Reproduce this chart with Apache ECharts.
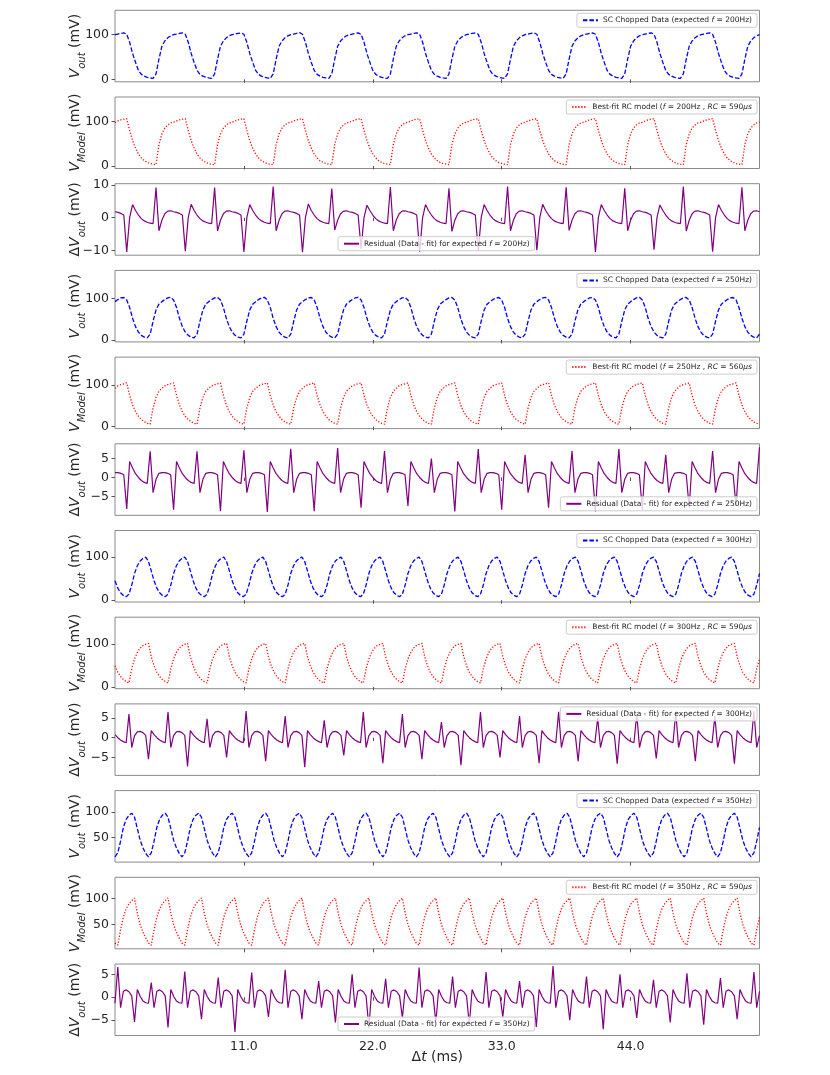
<!DOCTYPE html>
<html><head><meta charset="utf-8">
<script src="https://cdn.jsdelivr.net/npm/echarts@6/dist/echarts.min.js"></script>
<style>html,body{margin:0;padding:0;background:#fff}#c{width:830px;height:1075px}</style>
</head><body><div id="c"></div>
<script>
// ---------- axis / tick labels ----------
const xTicks = [11, 22, 33, 44];
const xRange = [0, 55];
// sample spacing (ms) of each recording
const dt200 = 0.25, dt250 = 0.25, dt300 = 1 / 4.2, dt350 = 1 / 4.2;

// ---------- 200 Hz (one row = one 5 ms period) ----------
const data200 = [
[100,101.5,103,104,101,83,58,38,20,11,7,4.5,3,2,12,45,74,86,93,97.5],
[100,101.5,103,104.3,101,83,58,38,20,11,7,4.5,3,2,12,45,74,86,93,97.5],
[100,101.5,103,104,101,83,58,38,20,11,7,4.5,3,2,12,45,74,86,93,97.5],
[100,101.5,103,104.5,101,83,58,38,20,11,7,4.5,3,2,12,45,74,86,93,97.5],
[100,101.5,103,104,101,83,58,38,20,11,7,4.5,3,2,12,45,74,86,93,97.5],
[100,101.5,103,104.2,101,83,58,38,20,11,7,4.5,3,2,12,45,74,86,93,97.5],
[100,101.5,103,104,101,83,58,38,20,11,7,4.5,3,2,12,45,74,86,93,97.5],
[100,101.5,103,104.4,101,83,58,38,20,11,7,4.5,3,2,12,45,74,86,93,97.5],
[100,101.5,103,104,101,83,58,38,20,11,7,4.5,3,2,12,45,74,86,93,97.5],
[100,101.5,103,104.2,101,83,58,38,20,11,7,4.5,3,2,12,45,74,86,93,97.5],
[100,101.5,103,104,101,83,58,38,20,11,7,4.5,3,2,12,45,74,86,93,97.5],
[100]];
const model200 = [
[97,101,103.5,105,106,80,57,40,27,18,12,8,5.5,4,3,48,72,85,92,96.5],
[98,101,103.5,105,106,80,57,40,27,18,12,8,5.5,4,3,48,72,85,92,96.5],
[98,101,103.5,105,106,80,57,40,27,18,12,8,5.5,4,3,48,72,85,92,96.5],
[98,101,103.5,105,106,80,57,40,27,18,12,8,5.5,4,3,48,72,85,92,96.5],
[98,101,103.5,105,106,80,57,40,27,18,12,8,5.5,4,3,48,72,85,92,96.5],
[98,101,103.5,105,106,80,57,40,27,18,12,8,5.5,4,3,48,72,85,92,96.5],
[98,101,103.5,105,106,80,57,40,27,18,12,8,5.5,4,3,48,72,85,92,96.5],
[98,101,103.5,105,106,80,57,40,27,18,12,8,5.5,4,3,48,72,85,92,96.5],
[98,101,103.5,105,106,80,57,40,27,18,12,8,5.5,4,3,48,72,85,92,96.5],
[98,101,103.5,105,106,80,57,40,27,18,12,8,5.5,4,3,48,72,85,92,96.5],
[98,101,103.5,105,106,80,57,40,27,18,12,8,5.5,4,3,48,72,85,92,96.5],
[98]];
const resid200 = [
[1.8,1.6,1.3,0.8,-10.5,0,4,2.2,0.8,-0.3,-1.0,-1.4,-1.7,-1.8,9.2,-4,-0.8,1.2,2.0,2.1],
[1.8,1.6,1.3,0.8,-10.3,0,4.1,2.2,0.8,-0.3,-1.0,-1.4,-1.7,-1.8,9.2,-4.1,-0.8,1.2,2.0,2.1],
[1.8,1.6,1.3,0.8,-10.5,0,4,2.2,0.8,-0.3,-1.0,-1.4,-1.7,-1.8,9.5,-4,-0.8,1.2,2.0,2.1],
[1.8,1.6,1.3,0.8,-10.6,0,4.2,2.2,0.8,-0.3,-1.0,-1.4,-1.7,-1.8,8.9,-3.8,-0.8,1.2,2.0,2.1],
[1.8,1.6,1.3,0.8,-9.6,0,3.8,2.2,0.8,-0.3,-1.0,-1.4,-1.7,-1.8,9.4,-4,-0.8,1.2,2.0,2.1],
[1.8,1.6,1.3,0.8,-10.4,0,4,2.2,0.8,-0.3,-1.0,-1.4,-1.7,-1.8,9.0,-4.2,-0.8,1.2,2.0,2.1],
[1.8,1.6,1.3,0.8,-10.2,0,4,2.2,0.8,-0.3,-1.0,-1.4,-1.7,-1.8,9.5,-4,-0.8,1.2,2.0,2.1],
[1.8,1.6,1.3,0.8,-10.0,0,4.1,2.2,0.8,-0.3,-1.0,-1.4,-1.7,-1.8,9.3,-3.9,-0.8,1.2,2.0,2.1],
[1.8,1.6,1.3,0.8,-10.5,0,4,2.2,0.8,-0.3,-1.0,-1.4,-1.7,-1.8,9.0,-4,-0.8,1.2,2.0,2.1],
[1.8,1.6,1.3,0.8,-9.8,0,3.9,2.2,0.8,-0.3,-1.0,-1.4,-1.7,-1.8,9.5,-4.1,-0.8,1.2,2.0,2.1],
[1.8,1.6,1.3,0.8,-10.4,0,4,2.2,0.8,-0.3,-1.0,-1.4,-1.7,-1.8,9.3,-4,-0.8,1.2,2.0,2.1],
[1.8]];

// ---------- 250 Hz (one row = one 4 ms period) ----------
const data250 = [
[92,97,101,102,96,78,52,32,19,11,7,5,14,45,72,86],
[92,97,101,102.5,96,78,52,32,19,11,7,5,14,45,72,86],
[92,97,101,102,96,78,52,32,19,11,7,5,14,45,72,86],
[92,97,101,102.3,96,78,52,32,19,11,7,5,14,45,72,86],
[92,97,101,102,96,78,52,32,19,11,7,5,14,45,72,86],
[92,97,101,102.5,96,78,52,32,19,11,7,5,14,45,72,86],
[92,97,101,102,96,78,52,32,19,11,7,5,14,45,72,86],
[92,97,101,102.2,96,78,52,32,19,11,7,5,14,45,72,86],
[92,97,101,102,96,78,52,32,19,11,7,5,14,45,72,86],
[92,97,101,102.4,96,78,52,32,19,11,7,5,14,45,72,86],
[92,97,101,102,96,78,52,32,19,11,7,5,14,45,72,86],
[92,97,101,102.3,96,78,52,32,19,11,7,5,14,45,72,86],
[92,97,101,102,96,78,52,32,19,11,7,5,14,45,72,86],
[92,97,101,102,96,78,52,32,19,11,7,5,14]];
const model250 = [
[92,98,101,103,105,75,52,36,25,17,12,8,6,45,70,85],
[92,98,101,103,105,75,52,36,25,17,12,8,6,45,70,85],
[92,98,101,103,105,75,52,36,25,17,12,8,6,45,70,85],
[92,98,101,103,105,75,52,36,25,17,12,8,6,45,70,85],
[92,98,101,103,105,75,52,36,25,17,12,8,6,45,70,85],
[92,98,101,103,105,75,52,36,25,17,12,8,6,45,70,85],
[92,98,101,103,105,75,52,36,25,17,12,8,6,45,70,85],
[92,98,101,103,105,75,52,36,25,17,12,8,6,45,70,85],
[92,98,101,103,105,75,52,36,25,17,12,8,6,45,70,85],
[92,98,101,103,105,75,52,36,25,17,12,8,6,45,70,85],
[92,98,101,103,105,75,52,36,25,17,12,8,6,45,70,85],
[92,98,101,103,105,75,52,36,25,17,12,8,6,45,70,85],
[92,98,101,103,105,75,52,36,25,17,12,8,6,45,70,85],
[92,98,101,103,105,75,52,36,25,17,12,8,6]];
const resid250 = [
[1.3,1.3,1.1,0.7,-8.3,4.2,2.5,1.0,0,-0.8,-1.3,-1.6,6.9,-4,-0.5,1.1],
[1.3,1.3,1.1,0.7,-8.5,4.2,2.5,1.0,0,-0.8,-1.3,-1.6,6.9,-4,-0.5,1.1],
[1.3,1.3,1.1,0.7,-8.9,4.2,2.5,1.0,0,-0.8,-1.3,-1.6,7.2,-4,-0.5,1.1],
[1.3,1.3,1.1,0.7,-9.1,4.2,2.5,1.0,0,-0.8,-1.3,-1.6,7.6,-4,-0.5,1.1],
[1.3,1.3,1.1,0.7,-8.9,4.2,2.5,1.0,0,-0.8,-1.3,-1.6,7.8,-4,-0.5,1.1],
[1.3,1.3,1.1,0.7,-8.0,4.2,2.5,1.0,0,-0.8,-1.3,-1.6,7.0,-4,-0.5,1.1],
[1.3,1.3,1.1,0.7,-7.5,4.2,2.5,1.0,0,-0.8,-1.3,-1.6,5.0,-4,-0.5,1.1],
[1.3,1.3,1.1,0.7,-9.0,4.2,2.5,1.0,0,-0.8,-1.3,-1.6,7.5,-4,-0.5,1.1],
[1.3,1.3,1.1,0.7,-8.5,4.2,2.5,1.0,0,-0.8,-1.3,-1.6,6.0,-4,-0.5,1.1],
[1.3,1.3,1.1,0.7,-8.0,4.2,2.5,1.0,0,-0.8,-1.3,-1.6,7.0,-4,-0.5,1.1],
[1.3,1.3,1.1,0.7,-9.0,4.2,2.5,1.0,0,-0.8,-1.3,-1.6,7.5,-4,-0.5,1.1],
[1.3,1.3,1.1,0.7,-8.5,4.2,2.5,1.0,0,-0.8,-1.3,-1.6,6.0,-4,-0.5,1.1],
[1.3,1.3,1.1,0.7,-8.0,4.2,2.5,1.0,0,-0.8,-1.3,-1.6,7.0,-4,-0.5,1.1],
[1.3,1.3,1.1,0.7,-7.5,4.2,2.5,1.0,0,-0.8,-1.3,-1.6,8.0]];

// ---------- 300 Hz (one row = one 3.33 ms period) ----------
const data300 = [
[45,28,17,11,8,14,35,62,80,91,97,100,90,68],
[45,28,17,11,8,14,35,62,80,91,97,100,90,68],
[45,28,17,11,8,14,35,62,80,91,97,100,90,68],
[45,28,17,11,8,14,35,62,80,91,97,100,90,68],
[45,28,17,11,8,14,35,62,80,91,97,100,90,68],
[45,28,17,11,8,14,35,62,80,91,97,100,90,68],
[45,28,17,11,8,14,35,62,80,91,97,100,90,68],
[45,28,17,11,8,14,35,62,80,91,97,100,90,68],
[45,28,17,11,8,14,35,62,80,91,97,100,90,68],
[45,28,17,11,8,14,35,62,80,91,97,100,90,68],
[45,28,17,11,8,14,35,62,80,91,97,100,90,68],
[45,28,17,11,8,14,35,62,80,91,97,100,90,68],
[45,28,17,11,8,14,35,62,80,91,97,100,90,68],
[45,28,17,11,8,14,35,62,80,91,97,100,90,68],
[45,28,17,11,8,14,35,62,80,91,97,100,90,68],
[45,28,17,11,8,14,35,62,80,91,97,100,90,68],
[45,28,17,11,8,14,35,62]];
const model300 = [
[49,34,24,17,12,9,42,65,80,90,96,99,101,70],
[49,34,24,17,12,9,42,65,80,90,96,99,101,70],
[49,34,24,17,12,9,42,65,80,90,96,99,101,70],
[49,34,24,17,12,9,42,65,80,90,96,99,101,70],
[49,34,24,17,12,9,42,65,80,90,96,99,101,70],
[49,34,24,17,12,9,42,65,80,90,96,99,101,70],
[49,34,24,17,12,9,42,65,80,90,96,99,101,70],
[49,34,24,17,12,9,42,65,80,90,96,99,101,70],
[49,34,24,17,12,9,42,65,80,90,96,99,101,70],
[49,34,24,17,12,9,42,65,80,90,96,99,101,70],
[49,34,24,17,12,9,42,65,80,90,96,99,101,70],
[49,34,24,17,12,9,42,65,80,90,96,99,101,70],
[49,34,24,17,12,9,42,65,80,90,96,99,101,70],
[49,34,24,17,12,9,42,65,80,90,96,99,101,70],
[49,34,24,17,12,9,42,65,80,90,96,99,101,70],
[49,34,24,17,12,9,42,65,80,90,96,99,101,70],
[49,34,24,17,12,9,42,65]];
const resid300 = [
[0.8,0,-0.6,-1.0,-1.3,6.0,-2.5,0.5,1.5,1.6,1.3,0.6,-5.5,1.8],
[0.8,0,-0.6,-1.0,-1.3,6.5,-2.5,0.5,1.5,1.6,1.3,0.6,-7.3,1.8],
[0.8,0,-0.6,-1.0,-1.3,4.8,-2.5,0.5,1.5,1.6,1.3,0.6,-5.0,1.8],
[0.8,0,-0.6,-1.0,-1.3,6.8,-2.5,0.5,1.5,1.6,1.3,0.6,-6.0,1.8],
[0.8,0,-0.6,-1.0,-1.3,5.5,-2.5,0.5,1.5,1.6,1.3,0.6,-7.5,1.8],
[0.8,0,-0.6,-1.0,-1.3,4.4,-2.5,0.5,1.5,1.6,1.3,0.6,-4.5,1.8],
[0.8,0,-0.6,-1.0,-1.3,6.5,-2.5,0.5,1.5,1.6,1.3,0.6,-6.5,1.8],
[0.8,0,-0.6,-1.0,-1.3,6.0,-2.5,0.5,1.5,1.6,1.3,0.6,-5.5,1.8],
[0.8,0,-0.6,-1.0,-1.3,4.0,-2.5,0.5,1.5,1.6,1.3,0.6,-7.0,1.8],
[0.8,0,-0.6,-1.0,-1.3,6.5,-2.5,0.5,1.5,1.6,1.3,0.6,-5.0,1.8],
[0.8,0,-0.6,-1.0,-1.3,5.5,-2.5,0.5,1.5,1.6,1.3,0.6,-6.5,1.8],
[0.8,0,-0.6,-1.0,-1.3,6.6,-2.5,0.5,1.5,1.6,1.3,0.6,-6.0,1.8],
[0.8,0,-0.6,-1.0,-1.3,5.0,-2.5,0.5,1.5,1.6,1.3,0.6,-6.6,1.8],
[0.8,0,-0.6,-1.0,-1.3,6.0,-2.5,0.5,1.5,1.6,1.3,0.6,-5.3,1.8],
[0.8,0,-0.6,-1.0,-1.3,6.5,-2.5,0.5,1.5,1.6,1.3,0.6,-6.0,1.8],
[0.8,0,-0.6,-1.0,-1.3,5.5,-2.5,0.5,1.5,1.6,1.3,0.6,-6.6,1.8],
[0.8,0,-0.6,-1.0,-1.3,6.8,-2.5,0.5]];

// ---------- 350 Hz (one row = one 2.86 ms period) ----------
const data350 = [
[12,20,43,70,86,94,98,90,68,45,30,19],[12,20,43,70,86,94,98,90,68,45,30,19],
[12,20,43,70,86,94,98,90,68,45,30,19],[12,20,43,70,86,94,98,90,68,45,30,19],
[12,20,43,70,86,94,98,90,68,45,30,19],[12,20,43,70,86,94,98,90,68,45,30,19],
[12,20,43,70,86,94,98,90,68,45,30,19],[12,20,43,70,86,94,98,90,68,45,30,19],
[12,20,43,70,86,94,98,90,68,45,30,19],[12,20,43,70,86,94,98,90,68,45,30,19],
[12,20,43,70,86,94,98,90,68,45,30,19],[12,20,43,70,86,94,98,90,68,45,30,19],
[12,20,43,70,86,94,98,90,68,45,30,19],[12,20,43,70,86,94,98,90,68,45,30,19],
[12,20,43,70,86,94,98,90,68,45,30,19],[12,20,43,70,86,94,98,90,68,45,30,19],
[12,20,43,70,86,94,98,90,68,45,30,19],[12,20,43,70,86,94,98,90,68,45,30,19],
[12,20,43,70,86,94,98,90,68,45,30,19],
[12,20,43,70]];
const model350 = [
[14,10,40,64,80,90,96,101,72,50,35,24],[14,10,40,64,80,90,96,101,72,50,35,24],
[14,10,40,64,80,90,96,101,72,50,35,24],[14,10,40,64,80,90,96,101,72,50,35,24],
[14,10,40,64,80,90,96,101,72,50,35,24],[14,10,40,64,80,90,96,101,72,50,35,24],
[14,10,40,64,80,90,96,101,72,50,35,24],[14,10,40,64,80,90,96,101,72,50,35,24],
[14,10,40,64,80,90,96,101,72,50,35,24],[14,10,40,64,80,90,96,101,72,50,35,24],
[14,10,40,64,80,90,96,101,72,50,35,24],[14,10,40,64,80,90,96,101,72,50,35,24],
[14,10,40,64,80,90,96,101,72,50,35,24],[14,10,40,64,80,90,96,101,72,50,35,24],
[14,10,40,64,80,90,96,101,72,50,35,24],[14,10,40,64,80,90,96,101,72,50,35,24],
[14,10,40,64,80,90,96,101,72,50,35,24],[14,10,40,64,80,90,96,101,72,50,35,24],
[14,10,40,64,80,90,96,101,72,50,35,24],
[14,10,40,64]];
const resid350 = [
[-1.3,6.6,-2.3,1.3,1.6,1.2,0.3,-5.4,1.7,0.2,-0.8,-1.2],
[-1.3,3.2,-2.3,1.3,1.6,1.2,0.3,-6.6,1.7,0.2,-0.8,-1.2],
[-1.3,5.6,-2.3,1.3,1.6,1.2,0.3,-4.8,1.7,0.2,-0.8,-1.2],
[-1.3,4.3,-2.3,1.3,1.6,1.2,0.3,-7.6,1.7,0.2,-0.8,-1.2],
[-1.3,5.4,-2.3,1.3,1.6,1.2,0.3,-4.3,1.7,0.2,-0.8,-1.2],
[-1.3,6.0,-2.3,1.3,1.6,1.2,0.3,-4.8,1.7,0.2,-0.8,-1.2],
[-1.3,3.5,-2.3,1.3,1.6,1.2,0.3,-5.5,1.7,0.2,-0.8,-1.2],
[-1.3,5.0,-2.3,1.3,1.6,1.2,0.3,-6.8,1.7,0.2,-0.8,-1.2],
[-1.3,4.0,-2.3,1.3,1.6,1.2,0.3,-4.5,1.7,0.2,-0.8,-1.2],
[-1.3,6.5,-2.3,1.3,1.6,1.2,0.3,-5.5,1.7,0.2,-0.8,-1.2],
[-1.3,4.5,-2.3,1.3,1.6,1.2,0.3,-6.0,1.7,0.2,-0.8,-1.2],
[-1.3,5.5,-2.3,1.3,1.6,1.2,0.3,-4.3,1.7,0.2,-0.8,-1.2],
[-1.3,3.5,-2.3,1.3,1.6,1.2,0.3,-6.5,1.7,0.2,-0.8,-1.2],
[-1.3,6.8,-2.3,1.3,1.6,1.2,0.3,-5.0,1.7,0.2,-0.8,-1.2],
[-1.3,4.5,-2.3,1.3,1.6,1.2,0.3,-7.0,1.7,0.2,-0.8,-1.2],
[-1.3,5.0,-2.3,1.3,1.6,1.2,0.3,-4.5,1.7,0.2,-0.8,-1.2],
[-1.3,3.8,-2.3,1.3,1.6,1.2,0.3,-5.5,1.7,0.2,-0.8,-1.2],
[-1.3,5.2,-2.3,1.3,1.6,1.2,0.3,-6.0,1.7,0.2,-0.8,-1.2],
[-1.3,4.2,-2.3,1.3,1.6,1.2,0.3,-4.8,1.7,0.2,-0.8,-1.2],
[-1.3,5.5,-2.3,1.3]];

// ---------- panel layout ----------
const panels = [
 {kind:'data',  f:200, rows:data200,  dt:dt200, y:[-5.6,154.7], ticks:[0,100], leg:'ur'},
 {kind:'model', f:200, rc:590, rows:model200, dt:dt200, y:[-5.6,154.7], ticks:[0,100], leg:'ur'},
 {kind:'resid', f:200, rows:resid200, dt:dt200, y:[-11.5,10.4], ticks:[-10,0,10], leg:'lc'},
 {kind:'data',  f:250, rows:data250,  dt:dt250, y:[-4.6,167], ticks:[0,100], leg:'ur'},
 {kind:'model', f:250, rc:560, rows:model250, dt:dt250, y:[-4.6,167], ticks:[0,100], leg:'ur'},
 {kind:'resid', f:250, rows:resid250, dt:dt250, y:[-10,8.9], ticks:[-5,0,5], leg:'lr'},
 {kind:'data',  f:300, rows:data300,  dt:dt300, y:[-4.3,162], ticks:[0,100], leg:'ur'},
 {kind:'model', f:300, rc:590, rows:model300, dt:dt300, y:[-4.3,162], ticks:[0,100], leg:'ur'},
 {kind:'resid', f:300, rows:resid300, dt:dt300, y:[-9.6,8.6], ticks:[-5,0,5], leg:'ur'},
 {kind:'data',  f:350, rows:data350,  dt:dt350, y:[1.8,142.4], ticks:[50,100], leg:'ur'},
 {kind:'model', f:350, rc:590, rows:model350, dt:dt350, y:[3,141], ticks:[50,100], leg:'ur'},
 {kind:'resid', f:350, rows:resid350, dt:dt350, y:[-8.35,7.25], ticks:[-5,0,5], leg:'lc'}
];

const FONT = 'DejaVu Sans', TXT = '#262626';
const nameRich = {
  n:{fontFamily:FONT, fontSize:14, color:TXT, lineHeight:20},
  v:{fontFamily:FONT, fontSize:14, color:TXT, fontStyle:'italic', lineHeight:20},
  s:{fontFamily:FONT, fontSize:10, color:TXT, fontStyle:'italic', lineHeight:20, verticalAlign:'bottom', padding:[0,0,-2,0]}
};
const legRich = {
  n:{fontFamily:FONT, fontSize:7.5, color:TXT},
  i:{fontFamily:FONT, fontSize:7.5, color:TXT, fontStyle:'italic'}
};
const styles = {
  data:{color:'#0000ff', type:[4.5,2], width:1.3},
  model:{color:'#ff0000', type:[1.2,1.8], width:1.3},
  resid:{color:'#800080', type:'solid', width:1.2}
};
function yName(kind){
  if(kind==='data') return '{v|V}{s|out}{n| (mV)}';
  if(kind==='model') return '{v|V}{s|Model}{n| (mV)}';
  return '{n|Δ}{v|V}{s|out}{n| (mV)}';
}
function legText(p){
  if(p.kind==='data') return '{n|SC Chopped Data (expected }{i|f}{n| = '+p.f+'Hz)}';
  if(p.kind==='model') return '{n|Best-fit RC model (}{i|f}{n| = '+p.f+'Hz , }{i|RC}{n| = '+p.rc+'}{i|μs}';
  return '{n|Residual (Data - fit) for expected }{i|f}{n| = '+p.f+'Hz)}';
}

const GT0 = 10.3, GSTEP = 86.7, GH = 71.5, GL = 115, GR = 70.5;
const grids=[], xAxes=[], yAxes=[], series=[], legends=[], legMap={};
panels.forEach((p,k)=>{
  const top = GT0 + GSTEP*k;
  const last = k===panels.length-1;
  const sname = p.kind+p.f;
  legMap[sname] = legText(p);
  grids.push({left:GL, right:GR, top:top, height:GH, show:true, borderColor:'#8a8a8a', borderWidth:1, backgroundColor:'transparent'});
  xAxes.push({type:'value', gridIndex:k, min:xRange[0], max:xRange[1],
    axisLine:{show:false}, splitLine:{show:false},
    axisTick:{show:true, length:3.5, lineStyle:{color:'#555'}, customValues:xTicks},
    axisLabel:{show:last, customValues:xTicks, formatter:v=>v.toFixed(1), fontSize:12.5, color:TXT, margin:5, fontFamily:FONT},
    name: last ? '{n|Δ}{v|t}{n| (ms)}' : '', nameLocation:'middle', nameGap:12, nameMoveOverlap:false,
    nameTextStyle:{rich:nameRich}});
  yAxes.push({type:'value', gridIndex:k, min:p.y[0], max:p.y[1],
    axisLine:{show:false}, splitLine:{show:false},
    axisTick:{show:true, length:3.5, lineStyle:{color:'#555'}, customValues:p.ticks},
    axisLabel:{customValues:p.ticks, fontSize:12.5, color:TXT, margin:6, fontFamily:FONT,
      formatter:v=> v<0 ? '\u2212'+Math.abs(v) : String(v)},
    name:yName(p.kind), nameLocation:'middle', nameRotate:90, nameGap:30, nameMoveOverlap:false,
    nameTextStyle:{rich:nameRich}});
  const vals = p.rows.flat();
  series.push({type:'line', name:sname, xAxisIndex:k, yAxisIndex:k, symbol:'none', animation:false,
    data: vals.map((v,i)=>[i*p.dt, v]), color:styles[p.kind].color,
    lineStyle:styles[p.kind], z:2});
  const L = {data:[sname], selectedMode:false, orient:'horizontal', itemWidth:15, itemHeight:8, itemGap:5,
    padding:[3,5,3,5], backgroundColor:'rgba(255,255,255,0.8)', borderColor:'#cccccc', borderWidth:1, borderRadius:2,
    itemStyle:{opacity:0},
    textStyle:{fontFamily:FONT, fontSize:7.5, color:TXT, rich:legRich},
    formatter:name=>legMap[name]};
  if(p.leg==='ur'){ L.right = 73; L.top = top+3; }
  else if(p.leg==='lr'){ L.right = 73; L.top = top+GH-18.5; }
  else { L.left = 338; L.top = top+GH-18.5; }
  legends.push(L);
});

const chart = echarts.init(document.getElementById('c'), null, {renderer:'canvas'});
chart.setOption({animation:false, backgroundColor:'#fff', grid:grids, xAxis:xAxes, yAxis:yAxes, series:series, legend:legends});
</script></body></html>
